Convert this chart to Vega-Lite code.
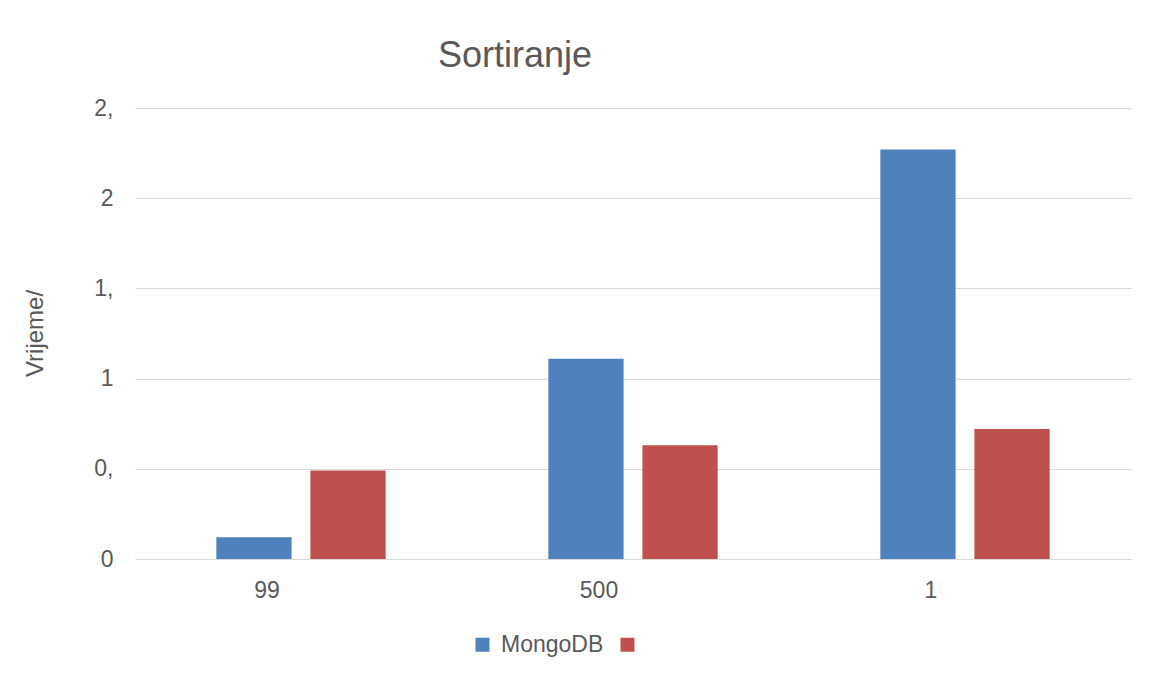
{
  "$schema": "https://vega.github.io/schema/vega-lite/v6.json",
  "width": 996,
  "height": 451,
  "autosize": "none",
  "padding": {"left": 135, "top": 108, "right": 27, "bottom": 118},
  "background": "white",
  "title": {
    "text": "Sortiranje",
    "fontSize": 36,
    "font": "Liberation Sans",
    "fontWeight": "normal",
    "color": "#595959",
    "anchor": "middle",
    "dx": -118,
    "offset": 22
  },
  "data": {
    "values": [
      {"kategorija": "99", "serija": "MongoDB", "vrijeme": 0.12},
      {"kategorija": "99", "serija": "", "vrijeme": 0.49},
      {"kategorija": "500", "serija": "MongoDB", "vrijeme": 1.11},
      {"kategorija": "500", "serija": "", "vrijeme": 0.63},
      {"kategorija": "1", "serija": "MongoDB", "vrijeme": 2.27},
      {"kategorija": "1", "serija": "", "vrijeme": 0.72}
    ]
  },
  "mark": {"type": "bar"},
  "encoding": {
    "x": {
      "field": "kategorija",
      "type": "nominal",
      "sort": ["99", "500", "1"],
      "scale": {"paddingInner": 0.49, "paddingOuter": 0.245},
      "axis": {
        "title": null,
        "labelAngle": 0,
        "labelFontSize": 23,
        "labelFont": "Liberation Sans",
        "labelColor": "#595959",
        "labelPadding": 20,
        "labelOffset": -34,
        "ticks": false,
        "domainColor": "#D9D9D9",
        "domainWidth": 1
      }
    },
    "xOffset": {
      "field": "serija",
      "type": "nominal",
      "sort": ["MongoDB", ""],
      "scale": {"paddingInner": 0.2, "paddingOuter": 0}
    },
    "y": {
      "field": "vrijeme",
      "type": "quantitative",
      "scale": {"domain": [0, 2.5], "nice": false},
      "axis": {
        "title": "Vrijeme/",
        "titleFontSize": 24,
        "titleFont": "Liberation Sans",
        "titleFontWeight": "normal",
        "titleColor": "#595959",
        "titleX": -100,
        "titleY": 225,
        "titleAngle": -90,
        "titleAlign": "center",
        "titleBaseline": "middle",
        "values": [0, 0.5, 1, 1.5, 2, 2.5],
        "labelExpr": "datum.value % 1 ? floor(datum.value) + ',' : format(datum.value, 'd')",
        "labelFontSize": 23,
        "labelFont": "Liberation Sans",
        "labelColor": "#595959",
        "labelPadding": 22,
        "ticks": false,
        "domain": false,
        "gridColor": "#D9D9D9",
        "gridWidth": 1
      }
    },
    "color": {
      "field": "serija",
      "type": "nominal",
      "sort": ["MongoDB", ""],
      "scale": {"domain": ["MongoDB", ""], "range": ["#4F81BD", "#C0504D"]},
      "legend": {
        "title": null,
        "orient": "none",
        "direction": "horizontal",
        "legendX": 336,
        "legendY": 525,
        "symbolType": "square",
        "symbolSize": 196,
        "symbolStrokeWidth": 0,
        "symbolOpacity": 1,
        "labelFontSize": 23,
        "labelFont": "Liberation Sans",
        "labelColor": "#595959",
        "labelOffset": 7,
        "columnPadding": 12
      }
    }
  },
  "config": {
    "view": {"stroke": null}
  }
}
